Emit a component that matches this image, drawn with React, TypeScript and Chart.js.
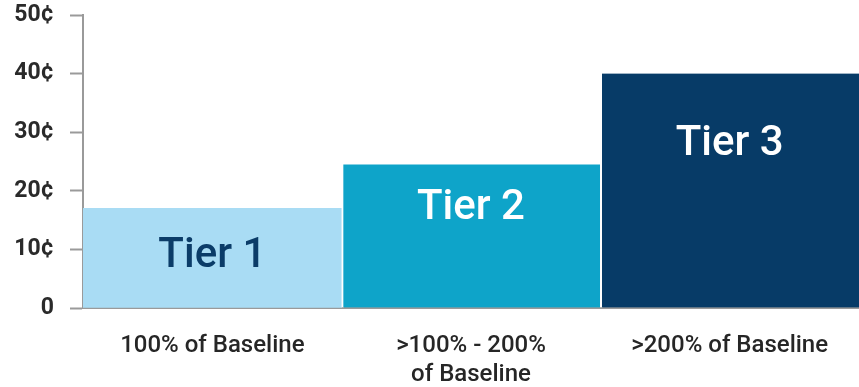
import React, { useEffect, useRef } from "react";
import { Chart, registerables } from "chart.js";

Chart.register(...registerables);

// Usage tiers and their per-unit rate, in cents
const categories: (string | string[])[] = [
  "100% of Baseline",
  [">100% - 200%", "of Baseline"],
  ">200% of Baseline",
];
const tierNames = ["Tier 1", "Tier 2", "Tier 3"];
const rates = [17, 24.5, 40];
const yTicks = [0, 10, 20, 30, 40, 50];

const barColors = ["#a9dcf4", "#0ea4c9", "#073b67"];
const tierTextColors = ["#0b3c68", "#ffffff", "#ffffff"];
const tierLabelDrop = [48, 44, 71];

const FONT = "Roboto, 'Noto Sans', sans-serif";

const tierLabelPlugin = {
  id: "tierLabels",
  afterDatasetsDraw(chart: Chart) {
    const { ctx } = chart;
    const meta = chart.getDatasetMeta(0);
    ctx.save();
    ctx.font = `500 42px ${FONT}`;
    ctx.textAlign = "center";
    ctx.textBaseline = "middle";
    meta.data.forEach((bar: any, i: number) => {
      ctx.fillStyle = tierTextColors[i];
      ctx.fillText(tierNames[i], bar.x, bar.y + tierLabelDrop[i]);
    });
    ctx.restore();
  },
};

export default function App() {
  const canvasRef = useRef<HTMLCanvasElement>(null);

  useEffect(() => {
    if (!canvasRef.current) return;
    const chart = new Chart(canvasRef.current, {
      type: "bar",
      data: {
        labels: categories,
        datasets: [
          {
            data: rates,
            backgroundColor: barColors,
            borderColor: "#ffffff",
            borderWidth: (c: any) =>
              c.dataIndex === 0 ? 0 : { left: 2, top: 0, right: 0, bottom: 0 },
            borderSkipped: false,
            categoryPercentage: 1,
            barPercentage: 1,
          },
        ],
      },
      options: {
        animation: false,
        responsive: false,
        maintainAspectRatio: false,
        layout: { padding: 0 },
        plugins: {
          legend: { display: false },
          tooltip: { enabled: false },
        },
        scales: {
          x: {
            offset: true,
            afterFit: (axis: any) => {
              axis.height = 79;
            },
            grid: { display: false },
            border: { display: true, color: "#9a9a9a", width: 2 },
            ticks: {
              color: "#262626",
              padding: 16,
              maxRotation: 0,
              autoSkip: false,
              font: { family: FONT, size: 24, weight: "500" as any, lineHeight: 1.2 },
            },
          },
          y: {
            min: 0,
            max: 50,
            afterFit: (axis: any) => {
              axis.width = 83;
              axis.paddingTop = 15;
              axis.paddingBottom = 0;
            },
            afterBuildTicks: (axis: any) => {
              axis.ticks = yTicks.map((v) => ({ value: v }));
            },
            grid: {
              drawOnChartArea: false,
              drawTicks: true,
              tickLength: 13,
              tickWidth: 2,
              color: "#9a9a9a",
            },
            border: { display: true, color: "#9a9a9a", width: 2 },
            ticks: {
              color: "#2a2a2a",
              padding: 16,
              font: { family: FONT, size: 23, weight: "bold" as any },
              callback: (v: any) => (Number(v) === 0 ? "0" : `${v}¢`),
            },
          },
        },
      },
      plugins: [tierLabelPlugin],
    });
    return () => chart.destroy();
  }, []);

  return (
    <div style={{ position: "fixed", left: 0, top: 0, width: 859, height: 387, background: "#ffffff" }}>
      <canvas ref={canvasRef} width={859} height={387} style={{ display: "block" }} />
    </div>
  );
}
